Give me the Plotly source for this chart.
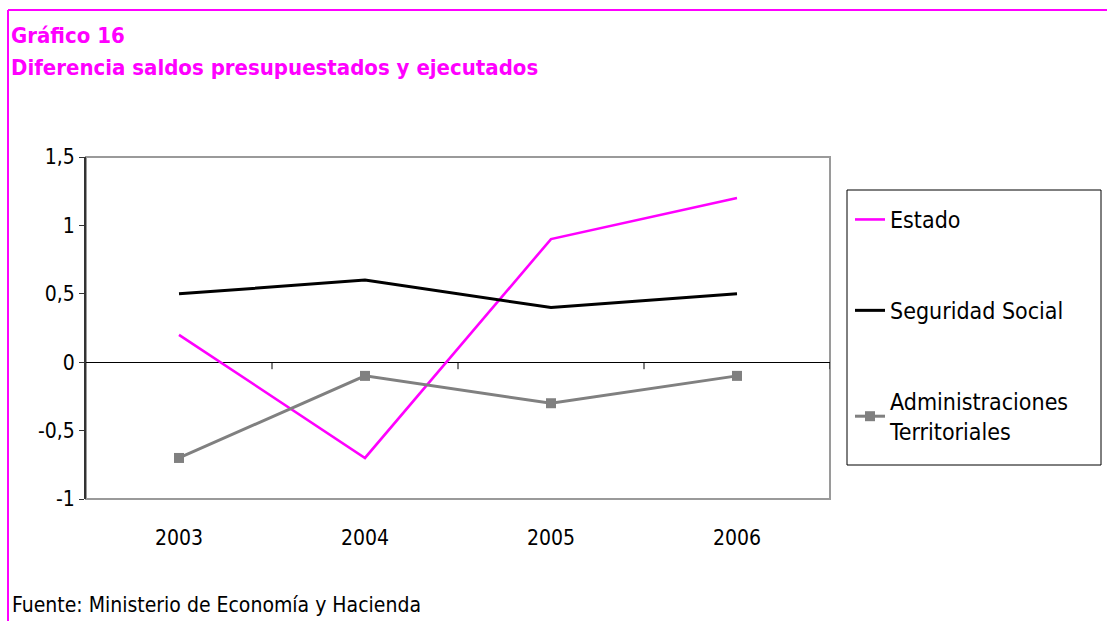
import plotly.graph_objects as go

# Years and series values (puntos del PIB)
years = ["2003", "2004", "2005", "2006"]
estado = [0.2, -0.7, 0.9, 1.2]
seguridad_social = [0.5, 0.6, 0.4, 0.5]
admin_territoriales = [-0.7, -0.1, -0.3, -0.1]

y_tickvals = [-1, -0.5, 0, 0.5, 1, 1.5]
y_ticktext = ["-1", "-0,5", "0", "0,5", "1", "1,5"]

MAGENTA = "#FF00FF"
FONT = "DejaVu Sans Condensed, Liberation Sans Narrow, Arial Narrow, sans-serif"

W, H = 1107, 621
L, R, T, B = 86, 277, 157, 122
PW, PH = W - L - R, H - T - B


def px_x(px):
    return (px - L) / PW


def px_y(py):
    return (H - B - py) / PH


fig = go.Figure()
fig.add_trace(go.Scatter(
    x=years, y=estado, name="Estado", mode="lines",
    line=dict(color=MAGENTA, width=2.6), legendgroup="a"))
fig.add_trace(go.Scatter(
    x=years, y=seguridad_social, name="Seguridad Social", mode="lines",
    line=dict(color="black", width=3), legendgroup="b"))
fig.add_trace(go.Scatter(
    x=years, y=admin_territoriales, name="Administraciones<br>Territoriales",
    mode="lines+markers", line=dict(color="#808080", width=3),
    marker=dict(symbol="square", size=10, color="#808080"), legendgroup="c"))

shapes = [
    # plot area frame
    dict(type="rect", xref="paper", yref="paper", x0=0, x1=1, y0=0, y1=1,
         line=dict(color="#9a9a9a", width=2), layer="below"),
    # legend frame
    dict(type="rect", xref="paper", yref="paper",
         x0=px_x(847), x1=px_x(1101), y0=px_y(465), y1=px_y(190),
         line=dict(color="black", width=1), layer="below"),
    # page frame lines
    dict(type="line", xref="paper", yref="paper",
         x0=px_x(8), x1=px_x(W), y0=px_y(10), y1=px_y(10),
         line=dict(color=MAGENTA, width=2)),
    dict(type="line", xref="paper", yref="paper",
         x0=px_x(8), x1=px_x(8), y0=px_y(10), y1=px_y(H),
         line=dict(color=MAGENTA, width=2)),
]
# category boundary ticks hanging from the zero line
for b in [0.5, 1.5, 2.5, 3.5]:
    shapes.append(dict(type="line", xref="x", yref="y", x0=b, x1=b,
                       ysizemode="pixel", yanchor=0, y0=0, y1=-7,
                       line=dict(color="black", width=1)))

annotations = [
    dict(text="<b>Gráfico 16</b>", xref="paper", yref="paper",
         x=px_x(9), y=px_y(35), xanchor="left", yanchor="middle",
         showarrow=False, font=dict(family=FONT, size=22, color=MAGENTA)),
    dict(text="<b>Diferencia saldos presupuestados y ejecutados</b>",
         xref="paper", yref="paper", x=px_x(9), y=px_y(68),
         xanchor="left", yanchor="middle", showarrow=False,
         font=dict(family=FONT, size=22, color=MAGENTA)),
    dict(text="Fuente: Ministerio de Economía y Hacienda", xref="paper",
         yref="paper", x=px_x(10), y=px_y(605), xanchor="left",
         yanchor="middle", showarrow=False,
         font=dict(family=FONT, size=21, color="black")),
]

fig.update_layout(
    width=W, height=H,
    margin=dict(l=L, r=R, t=T, b=B),
    paper_bgcolor="white", plot_bgcolor="white",
    font=dict(family=FONT, size=21, color="black"),
    shapes=shapes, annotations=annotations,
    legend=dict(
        x=px_x(850), y=px_y(198), xanchor="left", yanchor="top",
        borderwidth=0, bgcolor="rgba(0,0,0,0)",
        traceorder="grouped", tracegroupgap=58,
        font=dict(family=FONT, size=23, color="black"),
    ),
    xaxis=dict(
        type="category", range=[-0.5, 3.5], showgrid=False, zeroline=False,
        showline=False, ticks="", ticklabelstandoff=24,
        tickfont=dict(family=FONT, size=21, color="black"),
    ),
    yaxis=dict(
        range=[-1, 1.5], tickvals=y_tickvals, ticktext=y_ticktext,
        showgrid=False, zeroline=True, zerolinecolor="black", zerolinewidth=1,
        showline=True, linecolor="#333333", linewidth=2,
        ticks="outside", ticklen=5, tickcolor="#333333",
        tickfont=dict(family=FONT, size=21, color="black"),
    ),
)

fig.write_html("out.html")
